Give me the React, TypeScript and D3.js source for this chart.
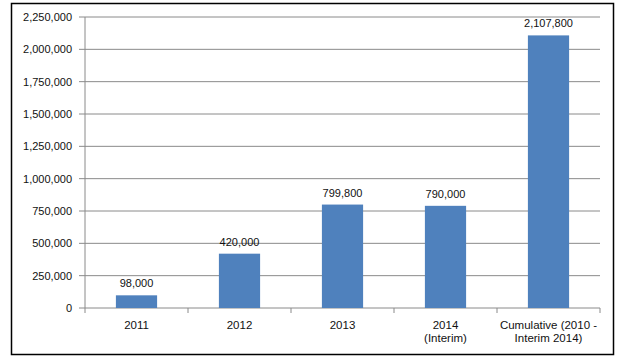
import React from "react";
import * as d3 from "d3";

const categories = ["2011", "2012", "2013", "2014\n(Interim)", "Cumulative (2010 -\nInterim 2014)"];
const values = [98000, 420000, 799800, 790000, 2107800];
const yTicks = [0, 250000, 500000, 750000, 1000000, 1250000, 1500000, 1750000, 2000000, 2250000];

export default function App() {
  const W = 625, H = 363;
  const left = 85, right = 600, top = 17, bottom = 308;
  const x = d3.scaleBand().domain(categories).range([left, right]).paddingInner(0.6).paddingOuter(0.3);
  const y = d3.scaleLinear().domain([0, 2250000]).range([bottom, top]);
  const fmt = d3.format(",");
  const font = "'Liberation Sans', Arial, sans-serif";
  const step = (right - left) / categories.length;

  return (
    <svg width={W} height={H} style={{ position: "absolute", left: 0, top: 0 }} fontFamily={font}>
      <rect x={0} y={0} width={W} height={H} fill="#fff" />
      <rect x={11.5} y={3.5} width={602} height={351} fill="none" stroke="#000" strokeWidth={1.5} />
      {yTicks.map((t) => (
        <g key={t}>
          {t > 0 && <line x1={left} x2={right} y1={y(t)} y2={y(t)} stroke="#8a8a8a" strokeWidth={1} />}
          <line x1={left - 6} x2={left} y1={y(t)} y2={y(t)} stroke="#8a8a8a" />
          <text x={72} y={y(t)} dy="0.35em" textAnchor="end" fontSize={11} fill="#111">{fmt(t)}</text>
        </g>
      ))}
      <line x1={left} x2={left} y1={top} y2={bottom} stroke="#8a8a8a" />
      <line x1={left} x2={right} y1={bottom} y2={bottom} stroke="#8a8a8a" />
      {d3.range(categories.length + 1).map((i) => (
        <line key={i} x1={left + i * step} x2={left + i * step} y1={bottom} y2={bottom + 5} stroke="#8a8a8a" />
      ))}
      {categories.map((c, i) => (
        <g key={c}>
          <rect x={x(c)} y={y(values[i])} width={x.bandwidth()} height={bottom - y(values[i])} fill="#4F81BD" />
          <text x={x(c)! + x.bandwidth() / 2} y={y(values[i]) - 8} textAnchor="middle" fontSize={11} fill="#111">{fmt(values[i])}</text>
          {c.split("\n").map((line, j) => (
            <text key={j} x={x(c)! + x.bandwidth() / 2} y={329 + j * 13} textAnchor="middle" fontSize={11.5} fill="#111">{line}</text>
          ))}
        </g>
      ))}
    </svg>
  );
}
